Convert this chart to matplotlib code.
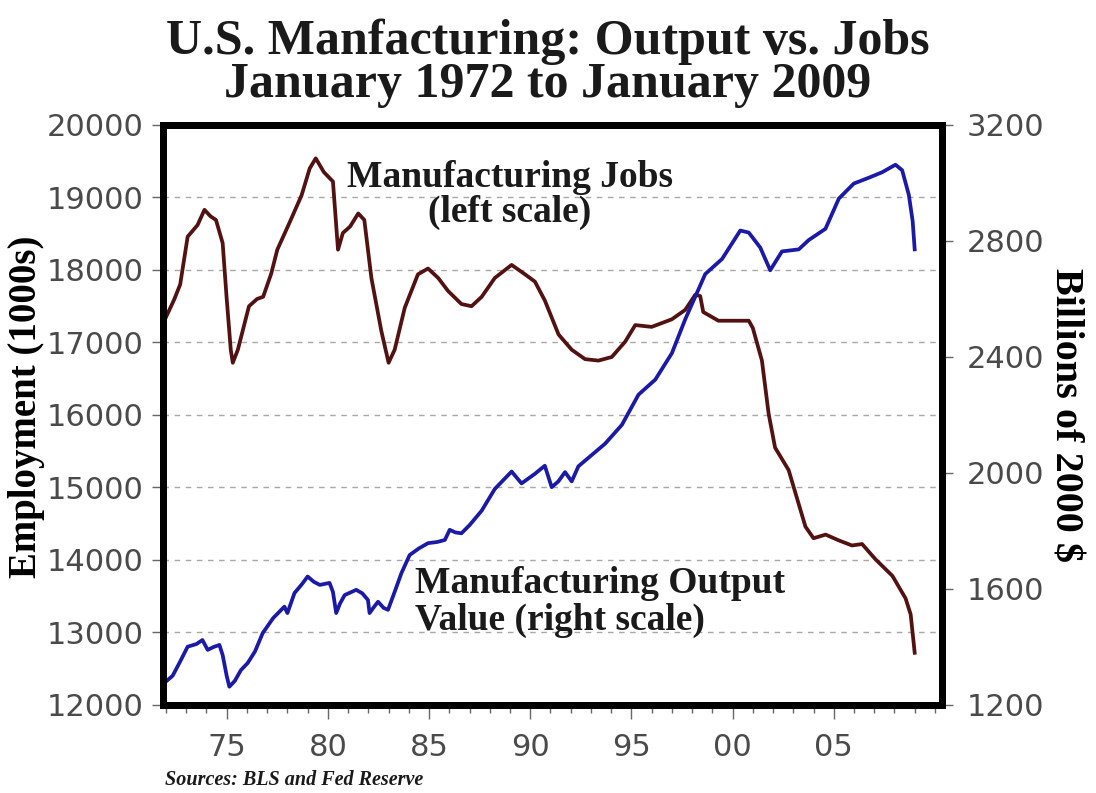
import matplotlib
matplotlib.use("Agg")
import matplotlib.pyplot as plt
from matplotlib.ticker import FixedLocator, MultipleLocator

# Manufacturing employment, thousands (left scale)
jobs_years = [1972.0, 1972.4, 1972.7, 1973.07, 1973.56, 1973.9, 1974.2, 1974.47, 1974.8,
              1975.0, 1975.2, 1975.3, 1975.55, 1976.1, 1976.5, 1976.8, 1977.2, 1977.5,
              1978.1, 1978.7, 1979.1, 1979.4, 1979.8, 1980.25, 1980.5, 1980.74, 1981.1,
              1981.5, 1981.8, 1982.15, 1982.64, 1983.0, 1983.3, 1983.8, 1984.45, 1984.95,
              1985.45, 1985.94, 1986.6, 1987.1, 1987.6, 1988.25, 1989.08, 1989.74, 1990.23,
              1990.72, 1991.4, 1992.05, 1992.71, 1993.37, 1994.03, 1994.69, 1995.19, 1996.0,
              1997.0, 1997.66, 1998.16, 1998.4, 1998.55, 1999.3, 2000.3, 2000.8, 2001.0,
              2001.45, 2001.78, 2002.1, 2002.77, 2003.6, 2004.0, 2004.6, 2005.25, 2005.9,
              2006.4, 2007.06, 2007.9, 2008.55, 2008.8, 2009.0]
jobs = [17350, 17590, 17800, 18460, 18620, 18830, 18740, 18690, 18370,
        17600, 16900, 16720, 16900, 17500, 17600, 17630, 17950, 18280,
        18650, 19030, 19400, 19540, 19350, 19220, 18280, 18510, 18600,
        18780, 18690, 17890, 17160, 16720, 16900, 17480, 17940, 18020,
        17890, 17710, 17530, 17500, 17630, 17890, 18070, 17940, 17840,
        17580, 17110, 16900, 16770, 16750, 16800, 17010, 17240, 17215,
        17320, 17450, 17660, 17640, 17420, 17300, 17300, 17300, 17200,
        16750, 16020, 15550, 15240, 14460, 14300, 14350, 14270, 14200,
        14220, 14010, 13780, 13470, 13250, 12720]

# Manufacturing output value, billions of 2000 $ (right scale)
output_years = [1972.0, 1972.33, 1972.7, 1973.07, 1973.5, 1973.8, 1974.06, 1974.35, 1974.64,
                1974.8, 1975.0, 1975.13, 1975.4, 1975.7, 1976.04, 1976.4, 1976.78, 1977.3,
                1977.85, 1978.0, 1978.35, 1978.7, 1979.0, 1979.3, 1979.6, 1980.08, 1980.25,
                1980.41, 1980.6, 1980.83, 1981.4, 1981.7, 1981.98, 1982.06, 1982.3, 1982.48,
                1982.75, 1982.97, 1983.3, 1983.63, 1984.04, 1984.5, 1984.95, 1985.4, 1985.78,
                1986.02, 1986.3, 1986.6, 1987.0, 1987.6, 1988.25, 1989.08, 1989.57, 1990.23,
                1990.72, 1991.06, 1991.39, 1991.72, 1992.05, 1992.38, 1993.04, 1993.7, 1994.53,
                1995.35, 1996.18, 1997.0, 1997.66, 1998.32, 1998.65, 1999.48, 2000.38, 2000.8,
                2001.37, 2001.86, 2002.44, 2003.27, 2003.76, 2004.59, 2005.25, 2005.99, 2006.73,
                2007.39, 2008.05, 2008.38, 2008.71, 2008.9, 2009.0]
output = [1281, 1301, 1350, 1401, 1410, 1424, 1390, 1400, 1407,
          1372, 1300, 1263, 1283, 1320, 1345, 1385, 1448, 1500,
          1539, 1517, 1586, 1615, 1643, 1625, 1614, 1621, 1590,
          1517, 1550, 1579, 1597, 1585, 1562, 1517, 1540, 1556,
          1535, 1528, 1590, 1654, 1717, 1740, 1758, 1762, 1769,
          1804, 1795, 1792, 1820, 1870, 1945, 2005, 1964, 1997,
          2025, 1951, 1971, 2003, 1971, 2023, 2062, 2101, 2166,
          2270, 2322, 2413, 2530, 2634, 2686, 2738, 2836, 2829,
          2777, 2699, 2764, 2771, 2803, 2842, 2946, 2998, 3018,
          3037, 3063, 3044, 2959, 2868, 2771]

year_ticks = [1975, 1980, 1985, 1990, 1995, 2000, 2005]
year_labels = ['75', '80', '85', '90', '95', '00', '05']
jobs_ticks = list(range(12000, 20001, 1000))
output_ticks = list(range(1200, 3201, 400))

SERIF = 'Liberation Serif'
TICK_FONT = 'DejaVu Sans'
TICK_COLOR = '#4a4a4a'
TEXT_COLOR = '#1a1a1a'

fig = plt.figure(figsize=(10.96, 7.93), dpi=100)
ax = fig.add_axes([0.1487, 0.111, 0.7108, 0.7314])
ax2 = ax.twinx()

ax.plot(jobs_years, jobs, color='#521212', lw=2.7, solid_joinstyle='round')
ax2.plot(output_years, output, color='#1a1aa6', lw=2.7, solid_joinstyle='round')

ax.set_xlim(1971.85, 2010.35)
ax.set_ylim(12000, 20000)
ax2.set_ylim(1200, 3200)

ax.xaxis.set_major_locator(FixedLocator(year_ticks))
ax.xaxis.set_minor_locator(MultipleLocator(1))
ax.set_xticklabels(year_labels)
ax.set_yticks(jobs_ticks)
ax.set_yticklabels([str(v) for v in jobs_ticks])
ax2.set_yticks(output_ticks)
ax2.set_yticklabels([str(v) for v in output_ticks])

ax.yaxis.grid(True, linestyle=(0, (4, 4)), color='#a8a8a8', lw=1.0)
ax.set_axisbelow(True)

for a in (ax, ax2):
    for sp in a.spines.values():
        sp.set_linewidth(5)
        sp.set_color('black')
    a.tick_params(which='both', direction='out', color='#666666', width=1,
                  labelcolor=TICK_COLOR, labelsize=22)
    for lab in a.get_xticklabels() + a.get_yticklabels():
        lab.set_fontfamily(TICK_FONT)

ax.tick_params(axis='y', length=8, pad=6)
ax2.tick_params(axis='y', length=8, pad=10)
ax.tick_params(axis='x', which='major', length=10, pad=10)
ax.tick_params(axis='x', which='minor', length=6)

ax.set_ylabel('Employment (1000s)', fontfamily=SERIF, fontweight='bold', fontsize=28)
ax.yaxis.set_label_coords(-0.151, 0.515)
ax2.set_ylabel('Billions of 2000 $', fontfamily=SERIF, fontweight='bold',
               fontsize=29, rotation=270, labelpad=28)

ax.text(1989.0, 19035, 'Manufacturing Jobs\n(left scale)', fontfamily=SERIF,
        fontweight='bold', fontsize=27, ha='center', va='center', linespacing=1.0,
        color=TEXT_COLOR)
ax2.text(1984.3, 1555, 'Manufacturing Output\nValue (right scale)', fontfamily=SERIF,
         fontweight='bold', fontsize=27, ha='left', va='center', linespacing=1.1,
         color=TEXT_COLOR)

fig.text(0.5, 0.947, 'U.S. Manfacturing: Output vs. Jobs', fontfamily=SERIF,
         fontweight='bold', fontsize=36, ha='center', va='center', color=TEXT_COLOR)
fig.text(0.5, 0.893, 'January 1972 to January 2009', fontfamily=SERIF,
         fontweight='bold', fontsize=36, ha='center', va='center', color=TEXT_COLOR)
fig.text(0.151, 0.004, 'Sources: BLS and Fed Reserve', fontfamily=SERIF,
         fontweight='bold', fontstyle='italic', fontsize=14.5, ha='left', va='bottom',
         color=TEXT_COLOR)

fig.savefig('out.png', dpi=100, facecolor='white')
